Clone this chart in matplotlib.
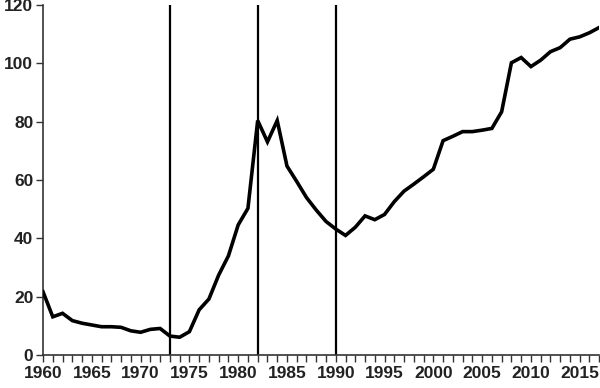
import matplotlib
matplotlib.use("Agg")
import matplotlib.pyplot as plt
from matplotlib.ticker import MultipleLocator

years = list(range(1960, 2018))
values = [
    21.7, 13.1, 14.3, 11.8, 10.9, 10.3, 9.7, 9.7, 9.5, 8.3,
    7.8, 8.8, 9.1, 6.5, 6.1, 8.0, 15.5, 19.2, 27.4, 34.0,
    44.6, 50.3, 80.4, 73.1, 80.4, 64.8, 59.5, 54.0, 49.7, 45.8,
    43.2, 41.0, 43.8, 47.7, 46.4, 48.2, 52.6, 56.2, 58.6, 61.1,
    63.7, 73.5, 75.0, 76.6, 76.6, 77.1, 77.7, 83.4, 100.2, 102.0,
    98.9, 101.1, 104.0, 105.4, 108.3, 109.1, 110.5, 112.3,
]
event_years = [1973, 1982, 1990]

plt.rcParams['font.family'] = ['Liberation Sans', 'DejaVu Sans']
plt.rcParams['font.weight'] = 'bold'

fig = plt.figure(figsize=(6, 3.88), dpi=100)
ax = fig.add_axes([0.0717, 0.085, 0.927, 0.902])

ax.plot(years, values, color='black', linewidth=2.6, solid_joinstyle='miter', zorder=3)
for yr in event_years:
    ax.axvline(yr, color='black', linewidth=1.6, zorder=2)

ax.set_xlim(1960, 2017)
ax.set_ylim(0, 120)
ax.xaxis.set_major_locator(MultipleLocator(5))
ax.xaxis.set_minor_locator(MultipleLocator(1))
ax.yaxis.set_major_locator(MultipleLocator(20))

for side in ['top', 'right']:
    ax.spines[side].set_visible(False)
for side in ['left', 'bottom']:
    ax.spines[side].set_color('#333333')
    ax.spines[side].set_linewidth(1.2)

ax.tick_params(axis='both', which='both', direction='out', color='#333333', width=1.0, labelsize=12.5)
ax.tick_params(axis='x', which='both', length=5, pad=3)
ax.tick_params(axis='y', which='major', length=5, pad=2)
for lbl in ax.get_xticklabels() + ax.get_yticklabels():
    lbl.set_fontweight('bold')
    lbl.set_color('#222222')

fig.savefig('out.png', dpi=100)
